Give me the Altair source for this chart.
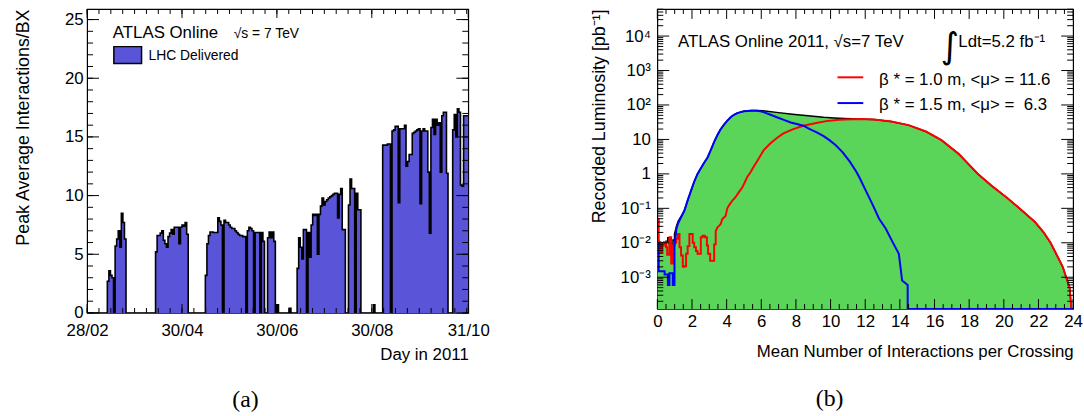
import math
import altair as alt
import pandas as pd

# ---------------- panel (a): peak average interactions / BX per day ----------------
DAY_MIN, DAY_MAX = 59, 304
run_start_days = [72, 103, 135, 181, 189, 194, 243, 249]
run1 = [2.7, 3.6, 3.2, 3.0, 0, 5.7, 6.3, 7.0, 5.6, 8.5, 7.7, 6.3]
run2 = [5.2, 6.6, 6.6, 6.8, 7.0, 6.2, 5.9, 5.6, 6.5, 6.8, 7.1, 6.7, 7.3, 7.3, 7.3, 5.9, 7.3, 7.5, 7.4, 7.7, 6.7]
run3 = [3.2, 5.9, 6.6, 6.9, 6.9, 6.85, 6.85, 6.85, 8.1, 7.8, 7.5, 0, 7.9, 7.7, 7.7, 7.5, 7.3, 7.2, 7.2, 7.0,
        6.85, 6.7, 6.6, 6.6, 6.5, 6.5, 0, 7.0, 7.3, 7.2, 7.0, 0, 6.85, 6.85, 6.85, 0, 6.85, 6.1, 0, 0,
        6.4, 6.9, 6.4, 6.9, 6.1]
run3b = [0.7]
run3c = [0.4]
run4 = [3.8, 6.4, 5.6, 4.6, 7.1, 7.1, 0, 6.85, 4.75, 7.5, 8.4, 8.3, 8.4, 5.0, 8.4, 9.1, 9.8, 9.2, 9.5, 9.65,
        9.8, 9.9, 10.0, 10.1, 10.2, 10.2, 8.1, 10.1, 10.6, 7.1, 7.1, 0, 0, 9.2, 11.4, 10.6, 10.6, 0, 10.2, 8.8, 8.8]
run4b = [0.7]
run5 = [14.3, 14.3, 14.3, 14.4, 14.4, 0, 15.5, 15.6, 15.9, 15.9, 9.4, 15.7, 15.7, 15.7, 16.0, 12.5, 12.9, 13.5,
        13.5, 15.3, 15.4, 15.5, 15.6, 15.7, 9.3, 15.5, 15.7, 15.5, 15.5, 12.0, 6.8, 15.8, 16.5, 15.2, 16.5, 16.0,
        16.2, 12.0, 16.8, 17.1, 17.1, 11.9, 0, 0, 0, 15.6, 16.9, 15.0, 17.4, 17.1, 10.9, 10.8, 16.8, 16.8, 16.8]
runs = [run1, run2, run3, run3b, run3c, run4, run4b, run5]
date_tick_days = [59, 120, 181, 242, 304]
date_tick_labels = ["28/02", "30/04", "30/06", "30/08", "31/10"]
y_a_major = [0, 5, 10, 15, 20, 25]

# ---------------- panel (b): recorded luminosity vs mean interactions ----------------
Y_FLOOR = 1.2e-4   # empty bins are drawn on the lower frame
total_step_edges = [0.0, 0.1, 0.2, 0.3, 0.4, 0.5, 0.6, 0.7, 0.8, 0.9, 0.99]
total_step_vals = [0.011, 0.010, 0.010, 0.010, 0.010, 0.011, 0.014, 0.009, 0.006, 0.012]
total_mu = [0.99, 1.1, 1.2, 1.37, 1.56, 1.75, 1.94, 2.13, 2.32, 2.51, 2.7, 2.9, 3.09, 3.28, 3.47, 3.66, 3.85,
            4.04, 4.23, 4.42, 4.61, 4.8, 5.0, 5.4, 5.75, 6.1, 7.0, 7.8, 8.4, 9.0, 9.6, 10.2, 10.8, 11.6, 12.5,
            13.5, 14.5, 15.5, 16.4, 17.4, 18.5, 19.3, 20.2, 20.9, 21.8, 22.3, 22.7, 23.1, 23.4, 23.6, 23.8,
            23.9, 24.0]
total_val = [0.018, 0.03, 0.042, 0.058, 0.088, 0.17, 0.32, 0.6, 1.0, 1.45, 2.1, 3.0, 5.0, 8.5, 13.5, 20, 27,
             35, 44, 52, 58, 62, 66, 69, 69, 68, 60, 54, 50, 47, 44, 42, 40.5, 39, 38, 33, 26, 17, 9.5, 3.8,
             1.0, 0.45, 0.2, 0.1, 0.04, 0.02, 0.01, 0.004, 0.002, 0.001, 0.0005, Y_FLOOR, Y_FLOOR]

red_step_edges = [0.0, 0.08, 0.19, 0.29, 0.38, 0.5, 0.57, 0.7, 0.8, 0.9, 0.99, 1.09, 1.18, 1.28, 1.37, 1.47,
                  1.56, 1.66, 1.75, 1.85, 1.94, 2.04, 2.13, 2.23, 2.32, 2.42, 2.51, 2.61, 2.74, 2.86, 2.93,
                  3.05, 3.18, 3.28, 3.37]
red_step_vals = [0.049, 0.0103, 0.0053, 0.0083, 0.0103, 0.0074, 0.0045, 0.0145, 0.0025, 0.0083, 0.010,
                 0.013, 0.018, 0.0074, 0.0043, 0.002, 0.0021, 0.0048, 0.008, 0.018, 0.018, 0.01, 0.0074,
                 0.0058, 0.0048, 0.0048, 0.0145, 0.016, 0.0145, 0.0083, 0.0048, 0.003, 0.003, 0.009]
red_mu = [3.37, 3.47, 3.56, 3.66, 3.75, 3.94, 4.04, 4.13, 4.32, 4.51, 4.7, 4.9, 5.09, 5.18, 5.37, 5.56, 5.75,
          5.94, 6.13, 6.5, 6.9, 7.28, 7.85, 8.42, 9.18, 9.75, 10.5, 11.6, 12.5, 13.5, 14.5, 15.5, 16.4, 17.4,
          18.5, 19.3, 20.2, 20.9, 21.8, 22.3, 22.7, 23.1, 23.4, 23.6, 23.8, 23.9, 24.0]
red_val = [0.022, 0.028, 0.031, 0.035, 0.049, 0.06, 0.1, 0.12, 0.166, 0.21, 0.29, 0.4, 0.63, 0.8, 1.1, 1.6,
           2.3, 3.3, 4.8, 7.5, 11, 15, 20, 25, 30, 34, 37, 39, 38, 33, 26, 17, 9.5, 3.8, 1.0, 0.45, 0.2, 0.1,
           0.04, 0.02, 0.01, 0.004, 0.002, 0.001, 0.0005, Y_FLOOR, Y_FLOOR]

blue_step_edges = [0.0, 0.08, 0.42, 0.61, 0.70, 0.89, 0.99]
blue_step_vals = [0.010, 0.0015, 0.0012, 0.0006, 0.0013, 0.0006]
blue_mu = [0.99, 1.1, 1.2, 1.37, 1.56, 1.75, 1.94, 2.13, 2.32, 2.51, 2.7, 2.9, 3.09, 3.28, 3.47, 3.66, 3.85,
           4.04, 4.23, 4.42, 4.61, 4.8, 5.0, 5.4, 5.75, 5.95, 6.13, 6.5, 6.9, 7.3, 7.7, 8.05, 8.42, 8.8, 9.2,
           9.6, 9.95, 10.3, 10.7, 11.1, 11.47, 11.66, 12.04, 12.42, 12.8, 13.18, 13.56, 13.94, 14.13, 14.45,
           14.45, 24.0]
blue_val = [0.008, 0.025, 0.037, 0.055, 0.085, 0.17, 0.32, 0.6, 1.0, 1.45, 2.1, 3.0, 5.0, 8.5, 13.5, 20, 27,
            35, 44, 52, 58, 62, 66, 68, 68, 66, 62, 53, 44, 37, 31, 28, 25, 20, 16, 12.5, 9.4, 6.8, 4.2, 2.3,
            1.2, 0.8, 0.32, 0.13, 0.05, 0.026, 0.011, 0.0048, 0.0008, 0.0006, Y_FLOOR, Y_FLOOR]

mu_major = list(range(0, 25, 2))
decades = [-3, -2, -1, 0, 1, 2, 3, 4]
decade_labels = ["10\u207b\u00b3", "10\u207b\u00b2", "10\u207b\u00b9", "1", "10", "10\u00b2", "10\u00b3", "10\u2074"]

# ---------------- styling ----------------
FONT = "Liberation Sans"
FILL_A = "#5A54D8"
FILL_B = "#5AD55A"
WA, HA = 385, 307
WB, HB = 420, 303
LOG_LO, LOG_HI = math.log10(1.2e-4), math.log10(6.1e4)   # decades shown on the log axis
SPAN = LOG_HI - LOG_LO

# ---------------- build tables ----------------
daily = {d: 0.0 for d in range(DAY_MIN, DAY_MAX + 1)}
for start, run in zip(run_start_days, runs):
    for k, v in enumerate(run):
        daily[start + k] = v
daily[DAY_MAX] = daily[DAY_MAX - 1]
df_a = pd.DataFrame({"day": list(daily.keys()), "mu": list(daily.values())})


def hist_table(edges, vals, mus, lums):
    xs, ys = [], []
    for i, v in enumerate(vals):
        xs += [edges[i], edges[i + 1]]
        ys += [v, v]
    xs += mus
    ys += lums
    return pd.DataFrame({"mu": xs, "lumi": ys, "i": list(range(len(xs)))})


df_total = hist_table(total_step_edges, total_step_vals, total_mu, total_val)
df_red = hist_table(red_step_edges, red_step_vals, red_mu, red_val)
df_blue = hist_table(blue_step_edges, blue_step_vals, blue_mu, blue_val)

one = pd.DataFrame({"k": [0]})


def text(x, y, s, size=17, font=FONT, align="left", color="black"):
    return alt.Chart(one).mark_text(align=align, baseline="alphabetic", font=font, fontSize=size,
                                    color=color).encode(x=alt.value(x), y=alt.value(y), text=alt.value(s))


# ---------------- scales and axes (shared by every layer) ----------------
xs_a = alt.Scale(domain=[DAY_MIN, DAY_MAX], nice=False, zero=False)
ys_a = alt.Scale(domain=[0, 25.9], nice=False)
expr_a = "".join(f"datum.value == {d} ? '{l}' : " for d, l in zip(date_tick_days, date_tick_labels)) + "''"
ax_a_x = alt.Axis(values=date_tick_days, labelExpr=expr_a, title="Day in 2011",
                  titleAnchor="end", labelPadding=10, titlePadding=8)
ax_a_y = alt.Axis(values=y_a_major, title="Peak Average Interactions/BX",
                  titleAnchor="end", labelPadding=4, titlePadding=32, titleFontSize=18)

# panel (b) position = decades above the lower frame, so the fill's zero baseline is the frame
xs_b = alt.Scale(domain=[0, 24], nice=False, zero=False)
ys_b = alt.Scale(domain=[0, SPAN], nice=False)
LY = f"log(datum.lumi)/LN10 - ({LOG_LO})"
expr_b = "[" + ",".join(f"'{l}'" for l in decade_labels) + f"][round(datum.value + ({LOG_LO}))+3]"
ax_b_x = alt.Axis(values=mu_major, title="Mean Number of Interactions per Crossing",
                  titleAnchor="end", labelPadding=5, titlePadding=14)
ax_b_y = alt.Axis(values=[d - LOG_LO for d in decades], labelExpr=expr_b,
                  title="Recorded Luminosity [pb\u207b\u00b9]",
                  titleAnchor="end", labelPadding=7, titlePadding=12, titleFontSize=18)


def x_ticks(vals, scale, axis, H, L):
    d = pd.DataFrame({"t": vals})
    bot = alt.Chart(d).mark_rule(color="black", strokeWidth=1).encode(
        x=alt.X("t:Q", scale=scale, axis=axis), y=alt.value(H - L), y2=alt.value(H))
    top = alt.Chart(d).mark_rule(color="black", strokeWidth=1).encode(
        x=alt.X("t:Q", scale=scale, axis=axis), y=alt.value(0), y2=alt.value(L))
    return [bot, top]


def y_ticks(vals, scale, axis, W, L):
    d = pd.DataFrame({"t": vals})
    lft = alt.Chart(d).mark_rule(color="black", strokeWidth=1).encode(
        y=alt.Y("t:Q", scale=scale, axis=axis), x=alt.value(0), x2=alt.value(L))
    rgt = alt.Chart(d).mark_rule(color="black", strokeWidth=1).encode(
        y=alt.Y("t:Q", scale=scale, axis=axis), x=alt.value(W - L), x2=alt.value(W))
    return [lft, rgt]


# ---------------- panel (a) ----------------
area_a = alt.Chart(df_a).mark_area(interpolate="step-after", color=FILL_A, clip=True).encode(
    x=alt.X("day:Q", scale=xs_a, axis=ax_a_x), y=alt.Y("mu:Q", scale=ys_a, axis=ax_a_y, stack=None))
line_a = alt.Chart(df_a).mark_line(interpolate="step-after", color="black", strokeWidth=1.6, clip=True).encode(
    x=alt.X("day:Q", scale=xs_a, axis=ax_a_x), y=alt.Y("mu:Q", scale=ys_a, axis=ax_a_y))

day_minor = [DAY_MIN + i * 61 / 8 for i in range(33) if DAY_MIN + i * 61 / 8 <= DAY_MAX]
layers_a = [area_a, line_a]
layers_a += x_ticks(date_tick_days, xs_a, ax_a_x, HA, 9) + x_ticks(day_minor, xs_a, ax_a_x, HA, 5)
layers_a += y_ticks(y_a_major, ys_a, ax_a_y, WA, 12) + y_ticks(list(range(0, 26)), ys_a, ax_a_y, WA, 6)
legend_box = alt.Chart(one).mark_rect(fill=FILL_A, stroke="black", strokeWidth=1.5).encode(
    x=alt.value(27), x2=alt.value(55), y=alt.value(38), y2=alt.value(55))
layers_a += [
    text(26, 29, "ATLAS Online", 17),
    text(148, 29, "\u221as = 7 TeV", 14),
    legend_box,
    text(62, 52, "LHC Delivered", 14),
    text(160, 402, "(a)", 24, font="Liberation Serif", align="center"),
]
chart_a = alt.layer(*layers_a).properties(width=WA, height=HA)

# ---------------- panel (b) ----------------
area_b = alt.Chart(df_total).transform_calculate(ly=LY).mark_area(color=FILL_B, clip=True).encode(
    x=alt.X("mu:Q", scale=xs_b, axis=ax_b_x),
    y=alt.Y("ly:Q", scale=ys_b, axis=ax_b_y, stack=None),
)


def curve(df, color, width):
    return alt.Chart(df).transform_calculate(ly=LY).mark_line(
        color=color, strokeWidth=width, clip=True).encode(
        x=alt.X("mu:Q", scale=xs_b, axis=ax_b_x), y=alt.Y("ly:Q", scale=ys_b, axis=ax_b_y), order="i:Q")


mu_minor = [m / 2 for m in range(0, 49) if m % 4 != 0]
log_minor = [k + math.log10(m) - LOG_LO for k in range(-4, 5) for m in range(2, 10)
             if LOG_LO <= k + math.log10(m) <= LOG_HI]
layers_b = [area_b, curve(df_total, "black", 1.5), curve(df_red, "#FF0000", 2), curve(df_blue, "#0000FF", 2)]
layers_b += x_ticks(mu_major, xs_b, ax_b_x, HB, 10) + x_ticks(mu_minor, xs_b, ax_b_x, HB, 5)
layers_b += y_ticks([d - LOG_LO for d in decades], ys_b, ax_b_y, WB, 12) + y_ticks(log_minor, ys_b, ax_b_y, WB, 6)


def leg_line(y, color):
    return alt.Chart(one).mark_rule(color=color, strokeWidth=2).encode(
        x=alt.value(182), x2=alt.value(208), y=alt.value(y))


layers_b += [
    text(21, 38, "ATLAS Online 2011, \u221as=7 TeV", 17),
    text(286, 49, "\u222b", 36, font="DejaVu Sans"),
    text(304, 38, "Ldt=5.2 fb\u207b\u00b9", 17),
    leg_line(69, "#FF0000"),
    text(224, 77, "\u03b2 * = 1.0 m, <\u03bc> = 11.6", 17),
    leg_line(95, "#0000FF"),
    text(224, 102, "\u03b2 * = 1.5 m, <\u03bc> =\u00a0 6.3", 17),
    text(174, 401, "(b)", 24, font="Liberation Serif", align="center"),
]
chart_b = alt.layer(*layers_b).properties(width=WB, height=HB)

chart = alt.hconcat(chart_a, chart_b, spacing=191, bounds="flush").properties(
    padding={"left": 14, "top": 5, "right": 0, "bottom": 0}
).configure_view(stroke="black", strokeWidth=1.2).configure_axis(
    labelFont=FONT, titleFont=FONT, labelFontSize=17, titleFontSize=17, titleFontWeight="normal",
    labelColor="black", titleColor="black", grid=False, ticks=False, tickSize=0, domain=False,
    labelFlush=False, labelOverlap=False,
)

chart.save("out.html", embed_options={"renderer": "svg", "actions": False})
